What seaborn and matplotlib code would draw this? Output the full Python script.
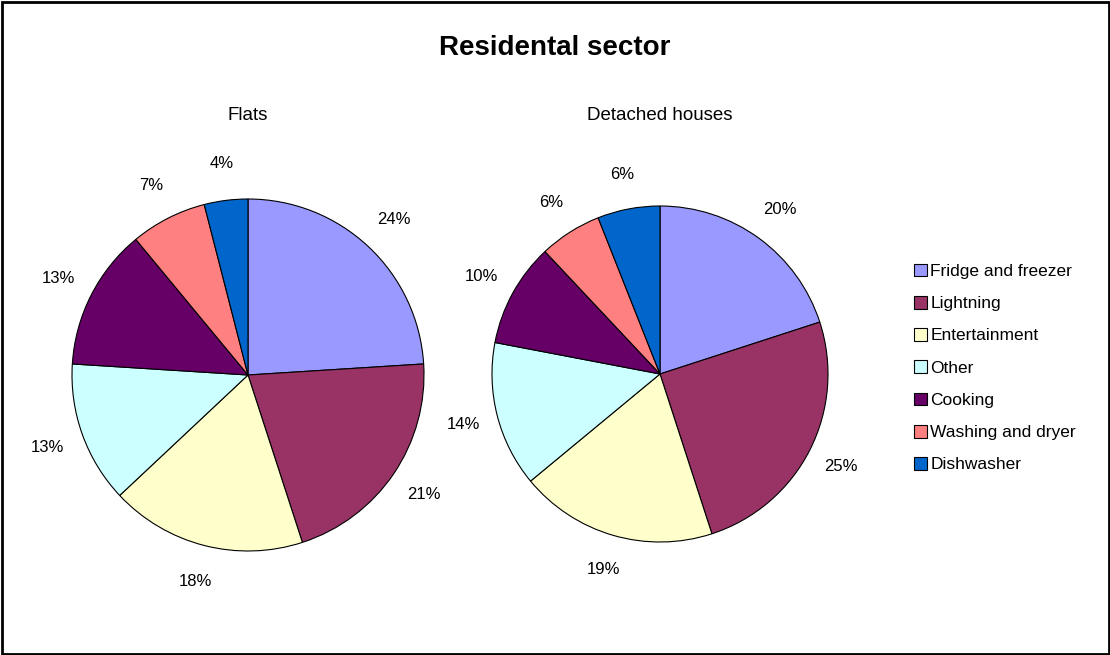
import matplotlib
matplotlib.use("Agg")
import matplotlib.pyplot as plt
from matplotlib.patches import Patch, Rectangle
import seaborn as sns

categories = ["Fridge and freezer", "Lightning", "Entertainment", "Other",
              "Cooking", "Washing and dryer", "Dishwasher"]
flats = [24, 21, 18, 13, 13, 7, 4]
detached = [20, 25, 19, 14, 10, 6, 6]
titles = ["Flats", "Detached houses"]
main_title = "Residental sector"
colors_hex = ["#9999FF", "#993366", "#FFFFCC", "#CCFFFF", "#660066", "#FF8080", "#0066CC"]

sns.set_theme(style="white")
plt.rcParams["font.family"] = ["Liberation Sans", "DejaVu Sans"]
plt.rcParams["text.color"] = "black"
palette = sns.color_palette(colors_hex)

W, H = 1110, 655
fig = plt.figure(figsize=(W / 100, H / 100), dpi=100)
fig.patch.set_facecolor("white")

def add_pie(cx, cy, r, values, title):
    ax = fig.add_axes([(cx - r) / W, (H - cy - r) / H, 2 * r / W, 2 * r / H])
    ax.pie(values, colors=palette, startangle=90, counterclock=False,
           autopct=lambda p: f"{p:.0f}%", pctdistance=1.21,
           wedgeprops=dict(edgecolor="black", linewidth=0.8),
           textprops=dict(fontsize=12, color="black"))
    ax.set_xlim(-1, 1)
    ax.set_ylim(-1, 1)
    ax.set_aspect("equal")
    ax.axis("off")
    fig.text(cx / W, 1 - 115 / H, title, ha="center", va="center", fontsize=13.5)

add_pie(248, 375, 176, flats, titles[0])
add_pie(660, 374, 168, detached, titles[1])

fig.text(555 / W, 1 - 48 / H, main_title, ha="center", va="center",
         fontsize=20, fontweight="bold")

handles = [Patch(facecolor=c, edgecolor="black", linewidth=0.8) for c in palette]
fig.legend(handles, categories, loc="center left",
           bbox_to_anchor=(914 / W, 1 - 368 / H), frameon=False,
           fontsize=12.5, handlelength=0.75, handleheight=0.75, handletextpad=0.2,
           labelspacing=0.97, borderaxespad=0, borderpad=0)

fig.patches.append(Rectangle((1.5 / W, 1.5 / H), 1 - 3 / W, 1 - 3 / H,
                             transform=fig.transFigure, fill=False,
                             edgecolor="black", linewidth=2))

fig.savefig("out.png", dpi=100)
